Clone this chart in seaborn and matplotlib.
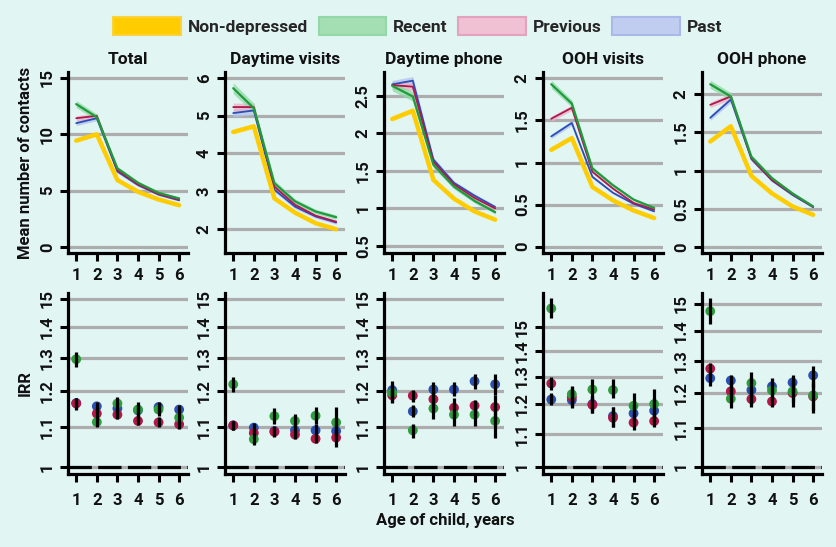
import numpy as np
import pandas as pd
import matplotlib
matplotlib.use("Agg")
import matplotlib.pyplot as plt
import seaborn as sns
from matplotlib.patches import Patch
from matplotlib.ticker import FixedLocator, FixedFormatter, NullLocator

# ---------------- data ----------------
years = [1, 2, 3, 4, 5, 6]
panels = ["Total", "Daytime visits", "Daytime phone", "OOH visits", "OOH phone"]
groups = ["Non-depressed", "Recent", "Previous", "Past"]

# Mean number of contacts (top row)
total_mean = {
    "Non-depressed": [9.44, 10.0, 5.94, 4.90, 4.22, 3.71],
    "Recent":        [12.68, 11.52, 6.98, 5.70, 4.81, 4.31],
    "Previous":      [11.43, 11.64, 6.80, 5.55, 4.70, 4.20],
    "Past":          [10.99, 11.43, 6.70, 5.50, 4.65, 4.15],
}
dvisit_mean = {
    "Non-depressed": [4.57, 4.72, 2.81, 2.43, 2.15, 1.99],
    "Recent":        [5.73, 5.20, 3.21, 2.73, 2.46, 2.31],
    "Previous":      [5.23, 5.23, 3.12, 2.64, 2.35, 2.19],
    "Past":          [5.07, 5.14, 3.04, 2.59, 2.33, 2.17],
}
dphone_mean = {
    "Non-depressed": [2.19, 2.30, 1.38, 1.13, 0.96, 0.85],
    "Recent":        [2.63, 2.49, 1.58, 1.29, 1.10, 0.95],
    "Previous":      [2.64, 2.62, 1.62, 1.32, 1.14, 1.00],
    "Past":          [2.65, 2.70, 1.65, 1.34, 1.17, 1.02],
}
oohv_mean = {
    "Non-depressed": [1.15, 1.29, 0.71, 0.55, 0.43, 0.34],
    "Recent":        [1.93, 1.70, 0.93, 0.73, 0.56, 0.46],
    "Previous":      [1.52, 1.65, 0.89, 0.69, 0.52, 0.44],
    "Past":          [1.31, 1.47, 0.83, 0.64, 0.51, 0.42],
}
oohp_mean = {
    "Non-depressed": [1.38, 1.58, 0.93, 0.70, 0.53, 0.42],
    "Recent":        [2.13, 1.97, 1.18, 0.90, 0.70, 0.53],
    "Previous":      [1.86, 1.97, 1.16, 0.875, 0.69, 0.525],
    "Past":          [1.69, 1.93, 1.15, 0.87, 0.68, 0.52],
}
# approximate relative half-width of the confidence ribbons
ribbon_rel = {"Non-depressed": 0.012, "Recent": 0.025, "Previous": 0.02, "Past": 0.02}

# IRR (bottom row): estimates and confidence limits
total_irr = {
    "Past":     ([1.166, 1.157, 1.151, 1.146, 1.155, 1.148], [1.150, 1.140, 1.130, 1.120, 1.140, 1.135], [1.180, 1.169, 1.170, 1.160, 1.165, 1.160]),
    "Previous": ([1.165, 1.137, 1.134, 1.117, 1.113, 1.108], [1.148, 1.120, 1.123, 1.105, 1.101, 1.096], [1.179, 1.155, 1.148, 1.130, 1.128, 1.120]),
    "Recent":   ([1.296, 1.114, 1.165, 1.148, 1.148, 1.126], [1.272, 1.101, 1.145, 1.130, 1.130, 1.110], [1.318, 1.130, 1.184, 1.169, 1.169, 1.140]),
}
dvisit_irr = {
    "Past":     ([1.105, 1.099, 1.090, 1.092, 1.092, 1.090], [1.093, 1.085, 1.077, 1.078, 1.075, 1.070], [1.116, 1.112, 1.104, 1.106, 1.108, 1.110]),
    "Previous": ([1.105, 1.085, 1.088, 1.081, 1.070, 1.073], [1.093, 1.072, 1.075, 1.070, 1.060, 1.049], [1.116, 1.098, 1.100, 1.093, 1.081, 1.095]),
    "Recent":   ([1.220, 1.069, 1.130, 1.117, 1.131, 1.113], [1.198, 1.054, 1.110, 1.097, 1.108, 1.080], [1.242, 1.084, 1.151, 1.137, 1.154, 1.154]),
}
dphone_irr = {
    "Past":     ([1.203, 1.143, 1.205, 1.205, 1.229, 1.220], [1.180, 1.128, 1.185, 1.185, 1.207, 1.190], [1.230, 1.160, 1.227, 1.227, 1.252, 1.250]),
    "Previous": ([1.188, 1.187, 1.177, 1.153, 1.159, 1.155], [1.165, 1.169, 1.150, 1.125, 1.130, 1.120], [1.210, 1.202, 1.205, 1.180, 1.174, 1.190]),
    "Recent":   ([1.195, 1.092, 1.151, 1.134, 1.134, 1.117], [1.170, 1.073, 1.121, 1.103, 1.103, 1.073], [1.220, 1.110, 1.180, 1.165, 1.165, 1.160]),
}
oohv_irr = {
    "Past":     ([1.216, 1.214, 1.200, 1.159, 1.168, 1.177], [1.196, 1.185, 1.170, 1.123, 1.140, 1.140], [1.238, 1.245, 1.230, 1.190, 1.200, 1.220]),
    "Previous": ([1.274, 1.225, 1.197, 1.153, 1.137, 1.142], [1.250, 1.190, 1.170, 1.123, 1.113, 1.121], [1.299, 1.260, 1.225, 1.190, 1.165, 1.170]),
    "Recent":   ([1.585, 1.235, 1.252, 1.250, 1.194, 1.200], [1.543, 1.205, 1.215, 1.220, 1.160, 1.150], [1.632, 1.265, 1.289, 1.289, 1.238, 1.252]),
}
oohp_irr = {
    "Past":     ([1.246, 1.239, 1.210, 1.221, 1.233, 1.255], [1.223, 1.210, 1.170, 1.195, 1.205, 1.220], [1.270, 1.257, 1.250, 1.246, 1.257, 1.286]),
    "Previous": ([1.276, 1.206, 1.183, 1.176, 1.201, 1.191], [1.250, 1.180, 1.159, 1.159, 1.161, 1.150], [1.294, 1.235, 1.210, 1.195, 1.240, 1.230]),
    "Recent":   ([1.472, 1.184, 1.231, 1.209, 1.206, 1.194], [1.427, 1.157, 1.200, 1.180, 1.175, 1.142], [1.521, 1.210, 1.264, 1.240, 1.235, 1.250]),
}

top_ticks = [[0, 5, 10, 15], [2, 3, 4, 5, 6], [0.5, 1, 1.5, 2, 2.5], [0, 0.5, 1, 1.5, 2], [0, 0.5, 1, 1.5, 2]]
top_ticklabels = [["0", "5", "10", "15"], ["2", "3", "4", "5", "6"], ["0.5", "1", "1.5", "2", "2.5"],
                  ["0", "0.5", "1", "1.5", "2"], ["0", "0.5", "1", "1.5", "2"]]
irr_ticks = [1, 1.1, 1.2, 1.3, 1.4, 1.5]
irr_ticklabels = ["1", "1.1", "1.2", "1.3", "1.4", "15"]

# ---------------- style ----------------
BG = "#E1F5F3"
line_col = {"Non-depressed": "#FFCC00", "Recent": "#1F9A3C", "Previous": "#B0184C", "Past": "#2A4DB8"}
band_col = {"Non-depressed": "#FFE066", "Recent": "#8ED9A2", "Previous": "#EDB2C8", "Past": "#B2C2EE"}
line_w = {"Non-depressed": 3.2, "Recent": 1.6, "Previous": 1.3, "Past": 1.3}
pt_col = {"Recent": "#2E9E3E", "Previous": "#B3174B", "Past": "#2C50B2"}
key_face = {"Non-depressed": "#FFCC00", "Recent": "#A3DFB2", "Previous": "#F0C0D3", "Past": "#C0CDF0"}
key_edge = {"Non-depressed": "#FAD23C", "Recent": "#95D8A7", "Previous": "#E2A3BC", "Past": "#A9B9EA"}
GRID = "#ADADAD"
TXT = "#111111"

sns.set_theme(style="white", rc={"axes.facecolor": BG, "figure.facecolor": BG})
plt.rcParams["font.family"] = ["Roboto", "DejaVu Sans"]
plt.rcParams["font.weight"] = "bold"

W, H = 837, 547
fig = plt.figure(figsize=(W / 100, H / 100), dpi=100)
fig.patch.set_facecolor(BG)

lefts = [68, 225, 384, 543, 702]
aw = 120
top_y0, top_y1 = 72, 253
bot_y0, bot_y1 = 293, 474
top_ylims = [(-0.53, 15.53), (1.36, 6.16), (0.407, 2.815), (-0.075, 2.075), (-0.08, 2.29)]
bot_ylims = [(0.983, 1.52), (0.983, 1.52), (0.983, 1.52), (0.979, 1.658), (0.982, 1.54)]
top_data = [total_mean, dvisit_mean, dphone_mean, oohv_mean, oohp_mean]
bot_data = [total_irr, dvisit_irr, dphone_irr, oohv_irr, oohp_irr]
XLIM = (0.6, 6.43)


def style_axis(ax, xpad):
    for s in ["top", "right"]:
        ax.spines[s].set_visible(False)
    for s in ["left", "bottom"]:
        ax.spines[s].set_visible(True)
        ax.spines[s].set_color("black")
        ax.spines[s].set_linewidth(2.3)
        ax.spines[s].set_capstyle("projecting")
    ax.tick_params(axis="both", which="major", length=5.5, width=2.2, color="black",
                   labelsize=12, labelcolor=TXT, pad=4, direction="out",
                   left=True, bottom=True)
    ax.tick_params(axis="x", pad=xpad)
    ax.tick_params(axis="y", labelrotation=90)
    for lab in ax.get_yticklabels():
        lab.set_va("center")
    ax.set_xlim(*XLIM)
    ax.xaxis.set_major_locator(FixedLocator(years))
    ax.set_xticklabels([str(y) for y in years])
    ax.set_xlabel("")
    ax.set_ylabel("")
    ax.set_facecolor(BG)


for i, pname in enumerate(panels):
    # ---- top row ----
    ax = fig.add_axes([lefts[i] / W, 1 - top_y1 / H, aw / W, (top_y1 - top_y0) / H])
    for t in top_ticks[i]:
        ax.axhline(t, color=GRID, lw=2.3, zorder=0.5)
    rows = []
    for g in groups:
        for yr, v in zip(years, top_data[i][g]):
            rows.append({"year": yr, "group": g, "mean": v})
    df = pd.DataFrame(rows)
    for g in ["Past", "Previous", "Recent", "Non-depressed"]:
        sub = df[df.group == g]
        lo = sub["mean"] * (1 - ribbon_rel[g])
        hi = sub["mean"] * (1 + ribbon_rel[g])
        ax.fill_between(sub["year"], lo, hi, color=band_col[g], alpha=0.75, lw=0, zorder=1)
    for g in ["Past", "Previous", "Recent", "Non-depressed"]:
        sub = df[df.group == g]
        sns.lineplot(data=sub, x="year", y="mean", ax=ax, color=line_col[g],
                     lw=line_w[g], legend=False, zorder=2, errorbar=None)
    ax.set_ylim(*top_ylims[i])
    ax.yaxis.set_major_locator(FixedLocator(top_ticks[i]))
    ax.yaxis.set_major_formatter(FixedFormatter(top_ticklabels[i]))
    style_axis(ax, 5)
    ax.set_title(pname, fontsize=12.5, fontweight="bold", pad=6, color=TXT)
    if i == 0:
        ax.set_ylabel("Mean number of contacts", fontsize=12, fontweight="bold", labelpad=5, color=TXT)

    # ---- bottom row ----
    bx = fig.add_axes([lefts[i] / W, 1 - bot_y1 / H, aw / W, (bot_y1 - bot_y0) / H])
    bx.set_yscale("log")
    for t in irr_ticks:
        bx.axhline(t, color=GRID, lw=2.3, zorder=0.5)
    bx.axhline(1, color="black", lw=2.3, zorder=0.6, dashes=(7.3, 2.0))
    rows = []
    for g in ["Past", "Previous", "Recent"]:
        est, lo, hi = bot_data[i][g]
        for yr, e, l, h in zip(years, est, lo, hi):
            rows.append({"year": yr, "group": g, "irr": e, "lo": l, "hi": h})
    bdf = pd.DataFrame(rows)
    sns.scatterplot(data=bdf, x="year", y="irr", hue="group", palette=pt_col,
                    hue_order=["Past", "Previous", "Recent"], s=50, linewidth=0,
                    ax=bx, legend=False, zorder=3)
    bx.vlines(bdf["year"], bdf["lo"], bdf["hi"], color="black", lw=2.3, zorder=4)
    bx.set_ylim(*bot_ylims[i])
    bx.yaxis.set_major_locator(FixedLocator(irr_ticks))
    bx.yaxis.set_major_formatter(FixedFormatter(irr_ticklabels))
    bx.yaxis.set_minor_locator(NullLocator())
    style_axis(bx, 8)
    if i == 0:
        bx.set_ylabel("IRR", fontsize=12, fontweight="bold", labelpad=5, color=TXT)

# shared x label
fig.text((lefts[0] + lefts[-1] + aw) / 2 / W, 1 - 521 / H, "Age of child, years",
         ha="center", va="center", fontsize=12, fontweight="bold", color=TXT)

handles = [Patch(facecolor=key_face[g], edgecolor=key_edge[g], linewidth=1.5) for g in groups]
fig.legend(handles, groups, loc="center", bbox_to_anchor=(0.499, 1 - 26 / H), ncol=4,
           frameon=False, handlelength=3.9, handleheight=1.25,
           handletextpad=0.4, columnspacing=0.6, prop={"weight": "bold", "size": 12.5})

fig.savefig("out.png", dpi=100, facecolor=BG)
